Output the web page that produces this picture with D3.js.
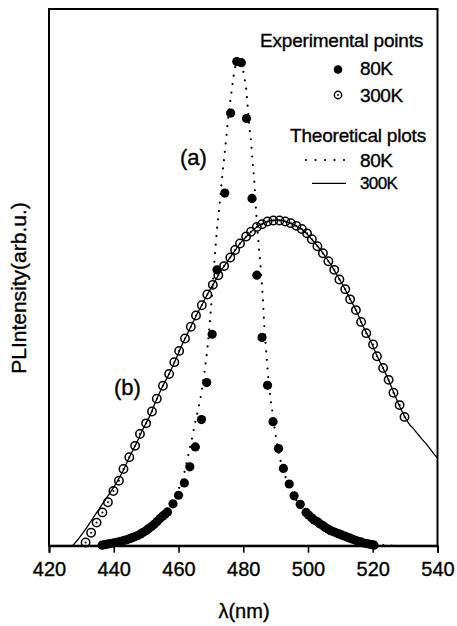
<!DOCTYPE html>
<html>
<head>
<meta charset="utf-8">
<script src="https://cdn.jsdelivr.net/npm/d3@7"></script>
<style>
  html, body { margin: 0; padding: 0; background: #fff; }
  svg { display: block; }
  text { font-family: "Liberation Sans", Arial, sans-serif; fill: #000; stroke: #000; stroke-width: 0.35px; }
</style>
</head>
<body>
<svg id="chart" width="457" height="626"></svg>
<script>
// PL spectra of the sample at 80 K and 300 K: measured points and fitted curves.

const xTicks = [420, 440, 460, 480, 500, 520, 540];

// 80 K measured points: wavelength (nm) and intensity (arb. u.)
const lambda80 = [436.4, 437.2, 438.1, 438.9, 439.8, 440.6, 441.5, 442.3, 443.2, 444.0,
  444.9, 445.7, 446.6, 447.4, 448.3, 449.1, 450.0, 450.8, 451.7, 452.5,
  453.4, 454.2, 455.1, 455.9, 456.6, 458.3, 460.0, 461.8, 463.5, 465.2,
  467.1, 468.7, 470.4, 471.9, 474.3, 476.1, 478.0,
  479.4, 481.0, 482.7, 484.2, 485.8, 487.5, 489.2, 490.9, 492.4, 494.2,
  495.7, 497.6, 499.4, 500.2, 501.1, 501.9, 502.8, 503.6, 504.5, 505.3,
  506.2, 507.0, 507.9, 508.7, 509.6, 510.4, 511.3, 512.1, 513.0, 513.8,
  514.7, 515.5, 516.4, 517.2, 518.1, 518.9, 519.8, 520.4];
const exp80 = [0.001, 0.002, 0.003, 0.004, 0.005, 0.006, 0.007, 0.008, 0.010, 0.011,
  0.013, 0.015, 0.017, 0.019, 0.022, 0.025, 0.028, 0.032, 0.036, 0.040,
  0.045, 0.050, 0.055, 0.059, 0.063, 0.078, 0.094, 0.117, 0.147, 0.184,
  0.235, 0.304, 0.394, 0.514, 0.657, 0.806, 0.902,
  0.900, 0.796, 0.647, 0.504, 0.388, 0.299, 0.231, 0.181, 0.144, 0.115,
  0.093, 0.077, 0.062, 0.057, 0.052, 0.048, 0.045, 0.041, 0.038, 0.034,
  0.031, 0.028, 0.026, 0.024, 0.022, 0.020, 0.018, 0.016, 0.014, 0.012,
  0.010, 0.008, 0.007, 0.005, 0.004, 0.003, 0.002, 0.001];

// 300 K measured points
const lambda300 = [431.3, 433.0, 434.7, 436.5, 438.2, 439.9, 441.6, 443.0, 444.8, 446.6,
  448.1, 450.0, 451.8, 453.3, 455.2, 457.1, 458.7, 460.2, 462.0, 463.8,
  465.4, 467.2, 468.9, 470.6, 472.3, 474.1, 476.0, 477.5, 479.0, 480.9,
  482.4, 484.2, 485.8, 487.5, 489.3, 491.2, 493.0, 494.7, 496.4, 498.1,
  499.7, 501.2, 502.9, 504.6, 506.3, 508.1, 509.7, 511.5, 513.0, 514.8,
  516.4, 518.0, 520.1, 521.3, 523.2, 524.9, 526.4, 528.3, 529.8];
const exp300 = [0.006, 0.024, 0.043, 0.062, 0.081, 0.102, 0.121, 0.143, 0.165, 0.186,
  0.208, 0.228, 0.250, 0.274, 0.298, 0.320, 0.342, 0.363, 0.386, 0.408,
  0.429, 0.448, 0.468, 0.486, 0.504, 0.521, 0.537, 0.551, 0.563, 0.576,
  0.585, 0.594, 0.599, 0.604, 0.606, 0.606, 0.604, 0.601, 0.596, 0.590,
  0.582, 0.571, 0.558, 0.545, 0.530, 0.514, 0.496, 0.478, 0.459, 0.439,
  0.417, 0.396, 0.375, 0.353, 0.331, 0.309, 0.285, 0.262, 0.240];

// 80 K theoretical curve (dotted)
const theoLambda80 = [436.0, 438.0, 440.0, 442.0, 444.0, 446.0, 448.0, 450.0, 452.0, 454.0,
  456.0, 458.0, 460.0, 461.0, 462.0, 463.0, 464.0, 465.0, 466.0, 467.0,
  468.0, 469.0, 470.0, 471.0, 471.8, 472.6, 473.5, 474.1, 474.7, 475.2,
  475.9, 476.3, 477.0, 477.8, 478.6, 479.5, 480.4, 480.9, 481.2, 481.9,
  482.4, 482.9, 483.5, 484.0, 484.9, 485.6, 486.1, 486.5, 487.1, 487.6,
  488.3, 489.0, 489.9, 491.0, 492.5, 494.0, 496.0, 498.0, 500.0, 502.0,
  504.0, 506.0, 508.0, 510.0, 512.0, 514.0, 516.0, 518.0, 520.0, 523.0, 526.0];
const theo80 = [0.000, 0.003, 0.006, 0.009, 0.013, 0.018, 0.024, 0.031, 0.041, 0.052,
  0.066, 0.083, 0.105, 0.120, 0.141, 0.168, 0.195, 0.225, 0.252, 0.282,
  0.322, 0.372, 0.440, 0.520, 0.583, 0.630, 0.688, 0.722, 0.756, 0.788,
  0.824, 0.842, 0.874, 0.900, 0.909, 0.898, 0.871, 0.852, 0.830, 0.781,
  0.753, 0.715, 0.672, 0.620, 0.551, 0.500, 0.455, 0.410, 0.362, 0.322,
  0.280, 0.250, 0.210, 0.172, 0.138, 0.113, 0.089, 0.071, 0.057, 0.046,
  0.037, 0.029, 0.023, 0.018, 0.013, 0.009, 0.006, 0.004, 0.002, 0.001, 0.000];

// 300 K theoretical curve (solid)
const theoLambda300 = [427.3, 429, 431, 433, 435, 437, 439, 441, 443, 445,
  447, 449, 451, 453, 455, 457, 459, 461, 463, 465,
  467, 469, 471, 473, 475, 477, 479, 481, 483, 485,
  487, 489, 491, 493, 495, 497, 499, 501, 503, 505,
  507, 509, 511, 513, 515, 517, 519, 521, 523, 525,
  527, 529, 531, 533, 535, 537, 539, 540];
const theo300 = [0.000, 0.012, 0.028, 0.046, 0.064, 0.082, 0.100, 0.119, 0.141, 0.167,
  0.191, 0.217, 0.240, 0.269, 0.296, 0.319, 0.345, 0.373, 0.398, 0.423,
  0.446, 0.469, 0.490, 0.511, 0.529, 0.546, 0.563, 0.576, 0.588, 0.597,
  0.603, 0.606, 0.607, 0.604, 0.600, 0.593, 0.585, 0.572, 0.558, 0.542,
  0.524, 0.504, 0.483, 0.460, 0.437, 0.409, 0.386, 0.358, 0.333, 0.307,
  0.278, 0.251, 0.229, 0.215, 0.200, 0.186, 0.170, 0.163];

const svg = d3.select("#chart");
const plotLeft = 49, plotRight = 437.5, plotTop = 9, plotBottom = 545.7;

const x = d3.scaleLinear().domain([420, 540]).range([plotLeft, plotRight]);
const y = d3.scaleLinear().domain([0, 1]).range([plotBottom, plotTop]);

// Plot frame
svg.append("rect")
  .attr("x", plotLeft).attr("y", plotTop)
  .attr("width", plotRight - plotLeft).attr("height", plotBottom - plotTop)
  .attr("fill", "none").attr("stroke", "#000").attr("stroke-width", 2);

// Bottom axis
const xAxis = svg.append("g")
  .attr("transform", `translate(0,${plotBottom})`)
  .call(d3.axisBottom(x).tickValues(xTicks).tickSize(7).tickPadding(4).tickFormat(d3.format("d")));
xAxis.select(".domain").attr("stroke-width", 2);
xAxis.selectAll(".tick line").attr("stroke-width", 1.6);
xAxis.selectAll(".tick text")
  .attr("font-size", 20)
  .attr("font-family", "Liberation Sans, Arial, sans-serif")
  .attr("dy", "0.95em");

// Axis titles
svg.append("text")
  .attr("x", 244).attr("y", 618)
  .attr("text-anchor", "middle")
  .attr("font-size", 20)
  .text("λ(nm)");

svg.append("text")
  .attr("transform", "translate(26,288) rotate(-90)")
  .attr("text-anchor", "middle")
  .attr("font-size", 21)
  .text("PLIntensity(arb.u.)");

const line = d3.line().x(d => x(d[0])).y(d => y(d[1])).curve(d3.curveMonotoneX);

// Theoretical curves
svg.append("path")
  .datum(d3.zip(theoLambda300, theo300))
  .attr("d", line)
  .attr("fill", "none").attr("stroke", "#000").attr("stroke-width", 1.3);

svg.append("path")
  .datum(d3.zip(theoLambda80, theo80))
  .attr("d", line)
  .attr("fill", "none").attr("stroke", "#000").attr("stroke-width", 2.2)
  .attr("stroke-linecap", "round").attr("stroke-dasharray", "0 8.5");

// 300 K measured points: open circles with a centre dot
const pts300 = svg.append("g").selectAll("g")
  .data(d3.zip(lambda300, exp300)).join("g")
  .attr("transform", d => `translate(${x(d[0])},${y(d[1])})`);
pts300.append("circle").attr("r", 4.2)
  .attr("fill", "none").attr("stroke", "#000").attr("stroke-width", 1.5);
pts300.append("circle").attr("r", 1).attr("fill", "#000");

// 80 K measured points: filled circles
svg.append("g").selectAll("circle")
  .data(d3.zip(lambda80, exp80)).join("circle")
  .attr("cx", d => x(d[0])).attr("cy", d => y(d[1]))
  .attr("r", 4.6).attr("fill", "#000");

// Curve labels
svg.append("text").attr("x", 180).attr("y", 165).attr("font-size", 22).text("(a)");
svg.append("text").attr("x", 114).attr("y", 395).attr("font-size", 22).text("(b)");

// Legend
const lg = svg.append("g");
lg.append("text").attr("x", 260).attr("y", 47).attr("font-size", 19)
  .attr("letter-spacing", -0.2).text("Experimental points");
lg.append("circle").attr("cx", 338).attr("cy", 69.5).attr("r", 4.3).attr("fill", "#000");
lg.append("text").attr("x", 360).attr("y", 75).attr("font-size", 19)
  .attr("letter-spacing", -0.4).text("80K");
const lgOpen = lg.append("g").attr("transform", "translate(338,95)");
lgOpen.append("circle").attr("r", 3.7).attr("fill", "none").attr("stroke", "#000").attr("stroke-width", 1.4);
lgOpen.append("circle").attr("r", 0.9).attr("fill", "#000");
lg.append("text").attr("x", 360).attr("y", 101.5).attr("font-size", 19)
  .attr("letter-spacing", -0.4).text("300K");

lg.append("text").attr("x", 290).attr("y", 141.5).attr("font-size", 19)
  .attr("letter-spacing", -0.2).text("Theoretical plots");
lg.append("line").attr("x1", 306).attr("x2", 346).attr("y1", 160).attr("y2", 160)
  .attr("stroke", "#000").attr("stroke-width", 2.2)
  .attr("stroke-linecap", "round").attr("stroke-dasharray", "0 9.5");
lg.append("text").attr("x", 360).attr("y", 166.5).attr("font-size", 19)
  .attr("letter-spacing", -0.4).text("80K");
lg.append("line").attr("x1", 312).attr("x2", 346).attr("y1", 183.3).attr("y2", 183.3)
  .attr("stroke", "#000").attr("stroke-width", 1.3);
lg.append("text").attr("x", 360).attr("y", 189.3).attr("font-size", 17)
  .attr("letter-spacing", -0.6).text("300K");
</script>
</body>
</html>
